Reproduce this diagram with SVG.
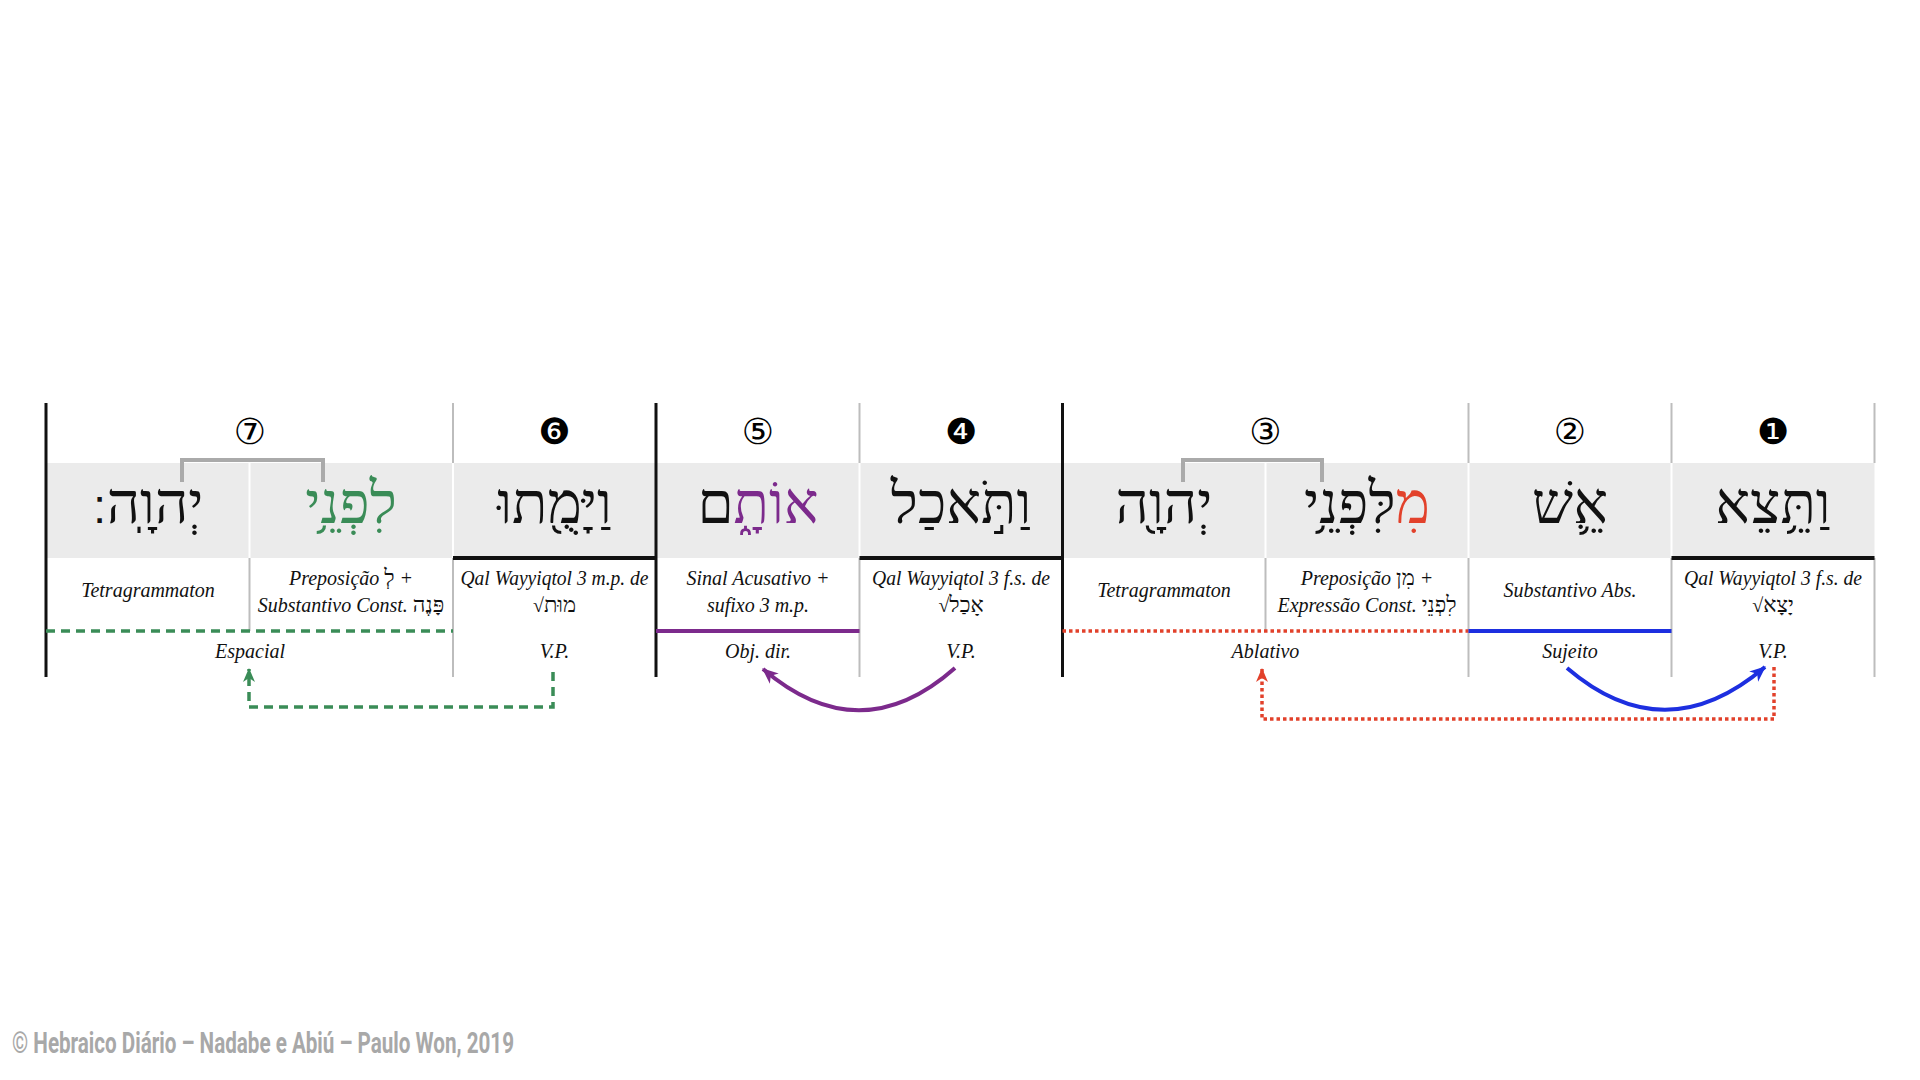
<svg xmlns="http://www.w3.org/2000/svg" width="1920" height="1080" viewBox="0 0 1920 1080">
<style>
.heb{font-family:"Liberation Serif","DejaVu Sans",serif;font-size:58px;fill:#111;text-anchor:middle}
.num{font-family:"DejaVu Sans","Noto Sans CJK SC",sans-serif;font-size:36px;fill:#000;text-anchor:middle}
.desc{font-family:"Liberation Serif",serif;font-style:italic;font-size:20px;fill:#111;text-anchor:middle}
.dheb{font-family:"Liberation Serif","DejaVu Sans",serif;font-style:normal;font-size:22px}
.lab{font-family:"Liberation Serif",serif;font-style:italic;font-size:20px;fill:#111;text-anchor:middle}
.gl{stroke:#bdbdbd;stroke-width:2;fill:none}
.bl{stroke:#111;stroke-width:3;fill:none}
.wl{stroke:#fff;stroke-width:2;fill:none}
.br{stroke:#aaaaaa;stroke-width:4;fill:none}
.foot{font-family:"Liberation Sans Narrow","Roboto","Liberation Sans",sans-serif;font-weight:bold;font-size:30px;fill:#a8a8a8}
</style>
<defs>
<marker id="aG" viewBox="0 0 14 12" refX="13" refY="6" markerWidth="14" markerHeight="12" markerUnits="userSpaceOnUse" orient="auto"><path d="M0,0 L14,6 L0,12 L4,6 z" fill="#3a8c57"/></marker>
<marker id="aP" viewBox="0 0 14 12" refX="13" refY="6" markerWidth="16" markerHeight="14" markerUnits="userSpaceOnUse" orient="auto"><path d="M0,0 L14,6 L0,12 L4,6 z" fill="#7c2a8c"/></marker>
<marker id="aB" viewBox="0 0 14 12" refX="13" refY="6" markerWidth="16" markerHeight="14" markerUnits="userSpaceOnUse" orient="auto"><path d="M0,0 L14,6 L0,12 L4,6 z" fill="#1d2fe0"/></marker>
<marker id="aR" viewBox="0 0 14 12" refX="13" refY="6" markerWidth="14" markerHeight="12" markerUnits="userSpaceOnUse" orient="auto"><path d="M0,0 L14,6 L0,12 L4,6 z" fill="#e2412b"/></marker>
</defs>
<rect width="1920" height="1080" fill="#fff"/>

<g id="grid">
<rect x="46" y="463" width="1828.5" height="95" fill="#ebebeb"/>
<path class="wl" d="M249.5,463V558 M453,463V558 M859.5,463V558 M1265.5,463V558 M1468.5,463V558 M1671.5,463V558"/>
<path class="gl" d="M453,403V463 M859.5,403V463 M1468.5,403V463 M1671.5,403V463 M1874.5,403V463"/>
<path class="gl" d="M453,558V677 M859.5,558V677 M1468.5,558V677 M1671.5,558V677 M1874.5,558V677 M249.5,558V631 M1265.5,558V631"/>
<path class="bl" d="M46,403V677 M656,403V677 M1062.5,403V677"/>
<path stroke="#111" stroke-width="4" d="M453,558H656 M859.5,558H1062.5 M1671.5,558H1874.5"/>
<path class="br" d="M182,482V460H323V482"/>
<path class="br" d="M1183,482V460H1322V482"/>
</g>

<g id="n7">
<text class="num" x="250" y="444">⑦</text>
<text class="heb" x="148" y="523" direction="rtl">יְהוָֽה<tspan style="font-family:'DejaVu Sans',sans-serif;font-size:48px">׃</tspan></text>
<text class="heb" x="351" y="523" style="fill:#3a8c57">לִפְנֵ֥י</text>
<text class="desc" x="148" y="597">Tetragrammaton</text>
<text class="desc" x="351" y="585">Preposição <tspan class="dheb">לְ</tspan> +</text>
<text class="desc" x="351" y="612">Substantivo Const. <tspan class="dheb">פָּנֶה</tspan></text>
<text class="lab" x="250" y="658">Espacial</text>
</g>

<g id="n6">
<text class="num" x="554.5" y="444">❻</text>
<text class="heb" x="554.5" y="523">וַיָּמֻ֖תוּ</text>
<text class="desc" x="554.5" y="585" textLength="188" lengthAdjust="spacingAndGlyphs">Qal Wayyiqtol 3 m.p. de</text>
<text class="desc" x="554.5" y="612"><tspan style="font-style:normal">√</tspan><tspan class="dheb">מוּת</tspan></text>
<text class="lab" x="554.5" y="658">V.P.</text>
</g>

<g id="n5">
<text class="num" x="758" y="444">⑤</text>
<text class="heb" x="758" y="523" direction="rtl"><tspan style="fill:#7c2a8c">אוֹתָ֑</tspan>ם</text>
<text class="desc" x="758" y="585">Sinal Acusativo +</text>
<text class="desc" x="758" y="612">sufixo 3 m.p.</text>
<text class="lab" x="758" y="658">Obj. dir.</text>
</g>

<g id="n4">
<text class="num" x="961" y="444">❹</text>
<text class="heb" x="961" y="523">וַתֹּ֣אכַל</text>
<text class="desc" x="961" y="585" textLength="178" lengthAdjust="spacingAndGlyphs">Qal Wayyiqtol 3 f.s. de</text>
<text class="desc" x="961" y="612"><tspan style="font-style:normal">√</tspan><tspan class="dheb">אָכַל</tspan></text>
<text class="lab" x="961" y="658">V.P.</text>
</g>

<g id="n3">
<text class="num" x="1265.5" y="444">③</text>
<text class="heb" x="1164" y="523">יְהוָ֖ה</text>
<text class="heb" x="1367" y="523" direction="rtl"><tspan style="fill:#e2412b">מִ</tspan>לִּפְנֵ֥י</text>
<text class="desc" x="1164" y="597">Tetragrammaton</text>
<text class="desc" x="1367" y="585">Preposição <tspan class="dheb">מִן</tspan> +</text>
<text class="desc" x="1367" y="612">Expressão Const. <tspan class="dheb">לִפְנֵי</tspan></text>
<text class="lab" x="1265.5" y="658">Ablativo</text>
</g>

<g id="n2">
<text class="num" x="1570" y="444">②</text>
<text class="heb" x="1570" y="523">אֵ֛שׁ</text>
<text class="desc" x="1570" y="597">Substantivo Abs.</text>
<text class="lab" x="1570" y="658">Sujeito</text>
</g>

<g id="n1">
<text class="num" x="1773" y="444">❶</text>
<text class="heb" x="1773" y="523">וַתֵּ֥צֵא</text>
<text class="desc" x="1773" y="585" textLength="178" lengthAdjust="spacingAndGlyphs">Qal Wayyiqtol 3 f.s. de</text>
<text class="desc" x="1773" y="612"><tspan style="font-style:normal">√</tspan><tspan class="dheb">יָצָא</tspan></text>
<text class="lab" x="1773" y="658">V.P.</text>
</g>

<g id="connectors">
<path d="M46,631H453" stroke="#3a8c57" stroke-width="3.5" stroke-dasharray="9 6" fill="none"/>
<path d="M656,631H859.5" stroke="#7c2a8c" stroke-width="4" fill="none"/>
<path d="M1062.5,631H1468.5" stroke="#e2412b" stroke-width="3.5" stroke-dasharray="3.5 3" fill="none"/>
<path d="M1468.5,631H1671.5" stroke="#1d2fe0" stroke-width="4" fill="none"/>
<path d="M553,672V707H249V669" stroke="#3a8c57" stroke-width="3.5" stroke-dasharray="9 6" fill="none" marker-end="url(#aG)"/>
<path d="M955,668Q860,752 763,669" stroke="#7c2a8c" stroke-width="4" fill="none" marker-end="url(#aP)"/>
<path d="M1567,668Q1665,752 1765,667" stroke="#1d2fe0" stroke-width="4" fill="none" marker-end="url(#aB)"/>
<path d="M1774,667V719H1262V669" stroke="#e2412b" stroke-width="3.5" stroke-dasharray="3.5 3" fill="none" marker-end="url(#aR)"/>
</g>

<text class="foot" x="12" y="1053" textLength="502" lengthAdjust="spacingAndGlyphs">© Hebraico Diário – Nadabe e Abiú – Paulo Won, 2019</text>
</svg>
